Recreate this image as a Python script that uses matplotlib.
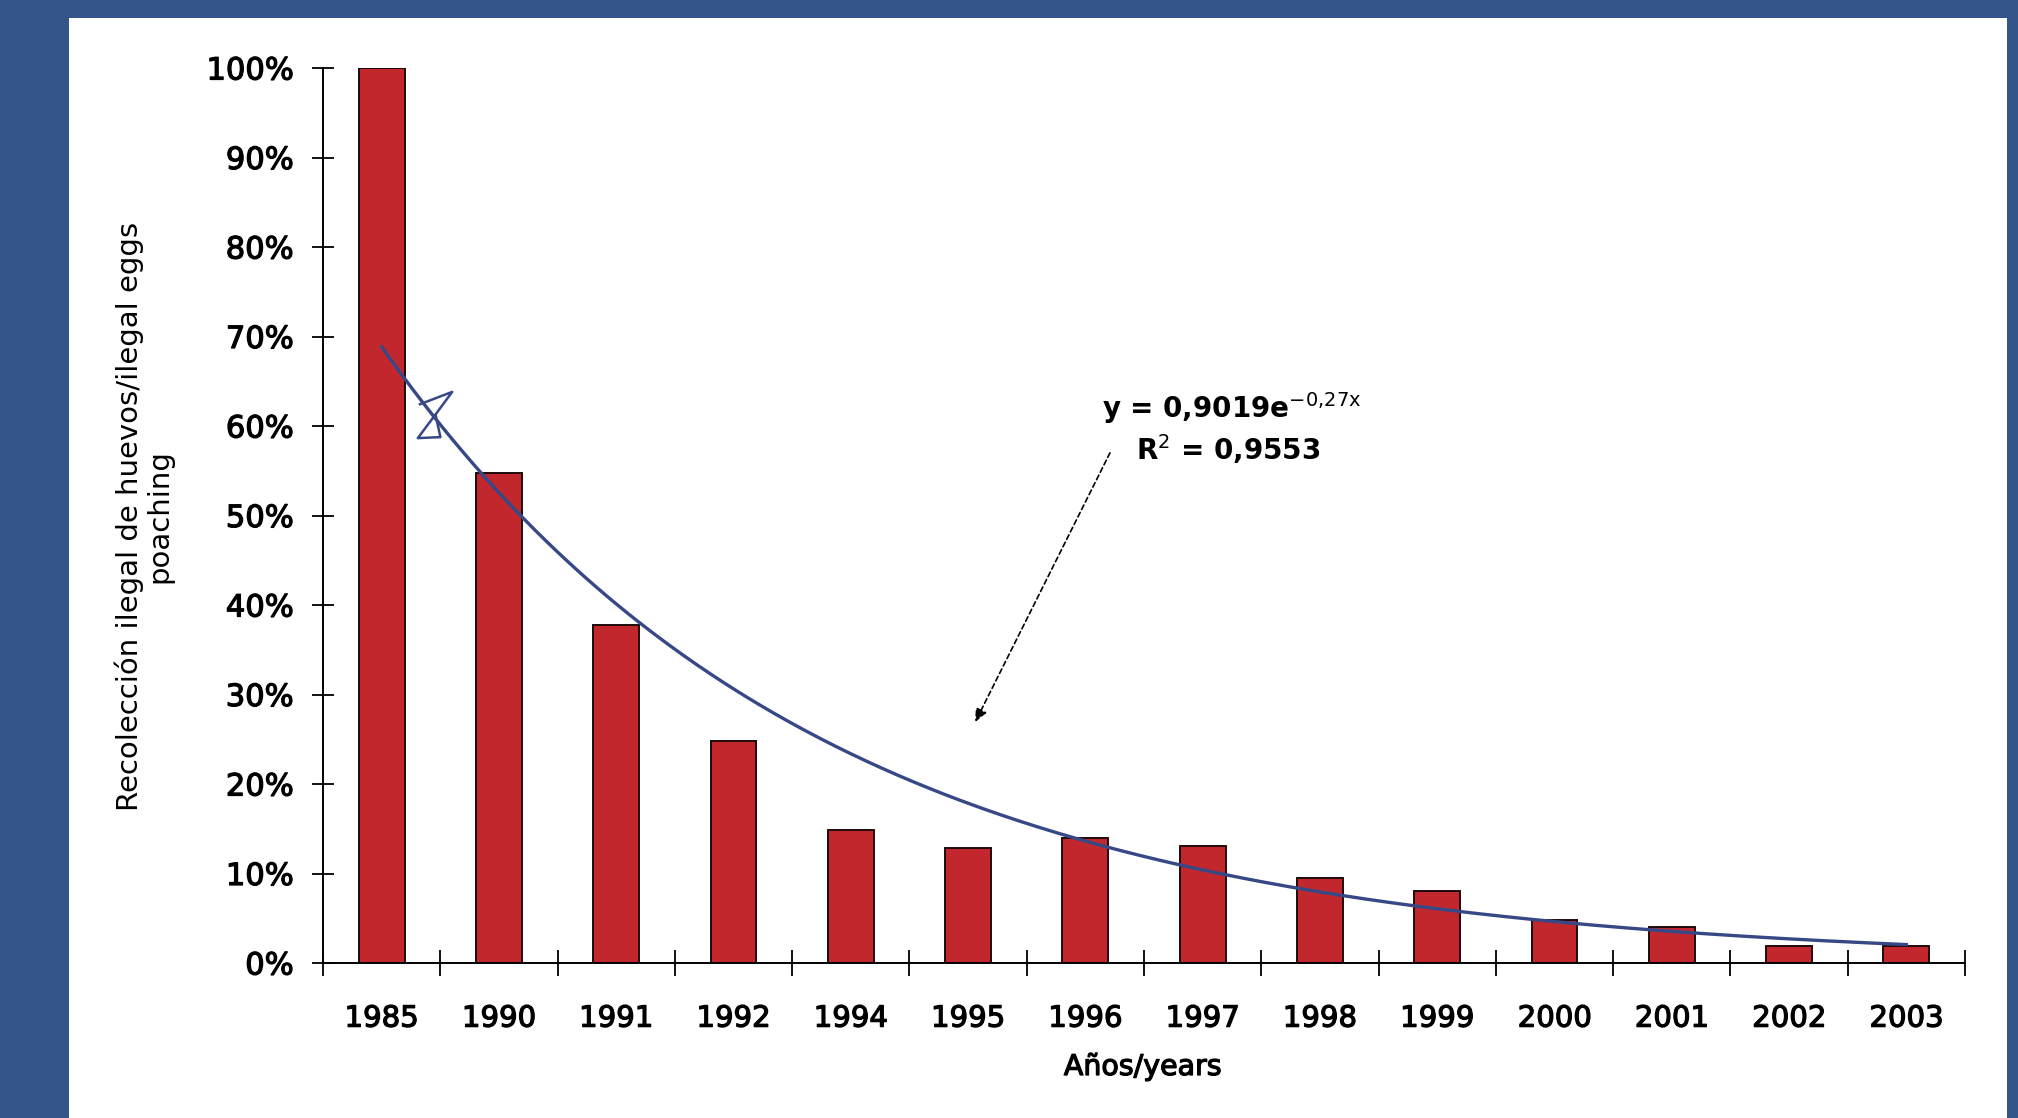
import numpy as np
import matplotlib
matplotlib.use("Agg")
import matplotlib.pyplot as plt
import matplotlib.patheffects as pe
from matplotlib.patches import Rectangle
from matplotlib.path import Path
from matplotlib.ticker import FuncFormatter, FixedLocator

# ---------------- data ----------------
years = ["1985", "1990", "1991", "1992", "1994", "1995", "1996",
         "1997", "1998", "1999", "2000", "2001", "2002", "2003"]
poaching = [1.00, 0.548, 0.378, 0.248, 0.149, 0.128, 0.140,
            0.131, 0.095, 0.081, 0.048, 0.040, 0.019, 0.019]
yticks = [0.0, 0.1, 0.2, 0.3, 0.4, 0.5, 0.6, 0.7, 0.8, 0.9, 1.0]

# exponential trendline y = a * exp(b * x), x = 1..n (as in the label)
trend_a = 0.9019
trend_b = -0.27
eq_text = r"y = 0,9019e$^{\mathrm{-0{,}27x}}$"
r2_text = r"R$^{\mathrm{2}}$ = 0,9553"

ylabel = "Recolección ilegal de huevos/ilegal eggs\npoaching"
xlabel = "Años/years"

# annotation arrow (data coords) and the little scribble mark
arrow_tail = (6.21, 0.570)
arrow_tip = (5.06, 0.269)
scribble_pos = (0.455, 0.613)

# ---------------- styling ----------------
BG_BLUE = "#34558A"
BAR_RED = "#C1272C"
TREND_BLUE = "#374887"

W, H, DPI = 2018, 1118, 100
plt.rcParams["font.family"] = ["DejaVu Sans"]
plt.rcParams["mathtext.fontset"] = "dejavusans"
fig = plt.figure(figsize=(W / DPI, H / DPI), dpi=DPI, facecolor=BG_BLUE)

# white panel
fig.patches.append(Rectangle((69 / W, 0), (2007 - 69) / W, (H - 18) / H,
                             transform=fig.transFigure, facecolor="white",
                             edgecolor="none", zorder=-10))

ax = fig.add_axes([323 / W, (H - 963) / H, (1965 - 323) / W, (963 - 68) / H])
ax.set_zorder(1)
ax.set_facecolor("none")

x = np.arange(len(years))
ax.bar(x, poaching, width=0.39, color=BAR_RED, edgecolor="#1e0a0a",
       linewidth=1.4, zorder=2)

xt = np.linspace(x[0], x[-1], 300)
ax.plot(xt, trend_a * np.exp(trend_b * (xt + 1)), color=TREND_BLUE,
        lw=2.4, zorder=3)

# scribble mark (hourglass-like)
verts = [(-17, 10), (17, 23), (0, 0), (-18, -24), (5, -23), (0, 0)]
ax.plot([scribble_pos[0]], [scribble_pos[1]], linestyle="none",
        marker=Path(verts), markersize=34, markerfacecolor="none",
        markeredgecolor=TREND_BLUE, markeredgewidth=1.8, zorder=4)

ax.set_xlim(-0.5, len(years) - 0.5)
ax.set_ylim(0, 1.0)

for s in ["top", "right"]:
    ax.spines[s].set_visible(False)
for s in ["left", "bottom"]:
    ax.spines[s].set_linewidth(1.4)
    ax.spines[s].set_color("black")

ax.yaxis.set_major_locator(FixedLocator(yticks))
ax.yaxis.set_major_formatter(FuncFormatter(lambda v, p: f"{v:.0%}"))
ax.tick_params(axis="y", direction="inout", length=16.5, width=1.3,
               labelsize=22, pad=13, colors="black")

ax.xaxis.set_major_locator(FixedLocator(np.arange(len(years) + 1) - 0.5))
ax.set_xticks(x, years, minor=True)
ax.xaxis.set_major_formatter(FuncFormatter(lambda v, p: ""))
ax.tick_params(axis="x", which="major", direction="inout", length=18.7,
               width=1.3, colors="black")
ax.tick_params(axis="x", which="minor", length=0, labelsize=21, pad=30)

heavy = [pe.withStroke(linewidth=0.9, foreground="black")]
for lab in ax.get_xticklabels(minor=True) + ax.get_yticklabels():
    lab.set_path_effects(heavy)

fig.text(1143 / W, 1 - 1067 / H, xlabel, ha="center", va="center",
         fontsize=20.5, path_effects=heavy)
fig.text(144 / W, 1 - 516 / H, ylabel, ha="center", va="center",
         rotation=90, fontsize=21, linespacing=1.1, multialignment="center")

fig.text(1102 / W, 1 - 418 / H, eq_text, ha="left", va="baseline",
         fontsize=20, fontweight="bold")
fig.text(1136 / W, 1 - 460 / H, r2_text, ha="left", va="baseline",
         fontsize=20, fontweight="bold")

ax.annotate("", xy=arrow_tip, xytext=arrow_tail,
            arrowprops=dict(arrowstyle="-|>,head_length=0.8,head_width=0.35",
                            linestyle=(0, (3, 2)), color="black", lw=1.2,
                            shrinkA=0, shrinkB=0), zorder=5)

fig.savefig("out.png", dpi=DPI, facecolor=BG_BLUE)
